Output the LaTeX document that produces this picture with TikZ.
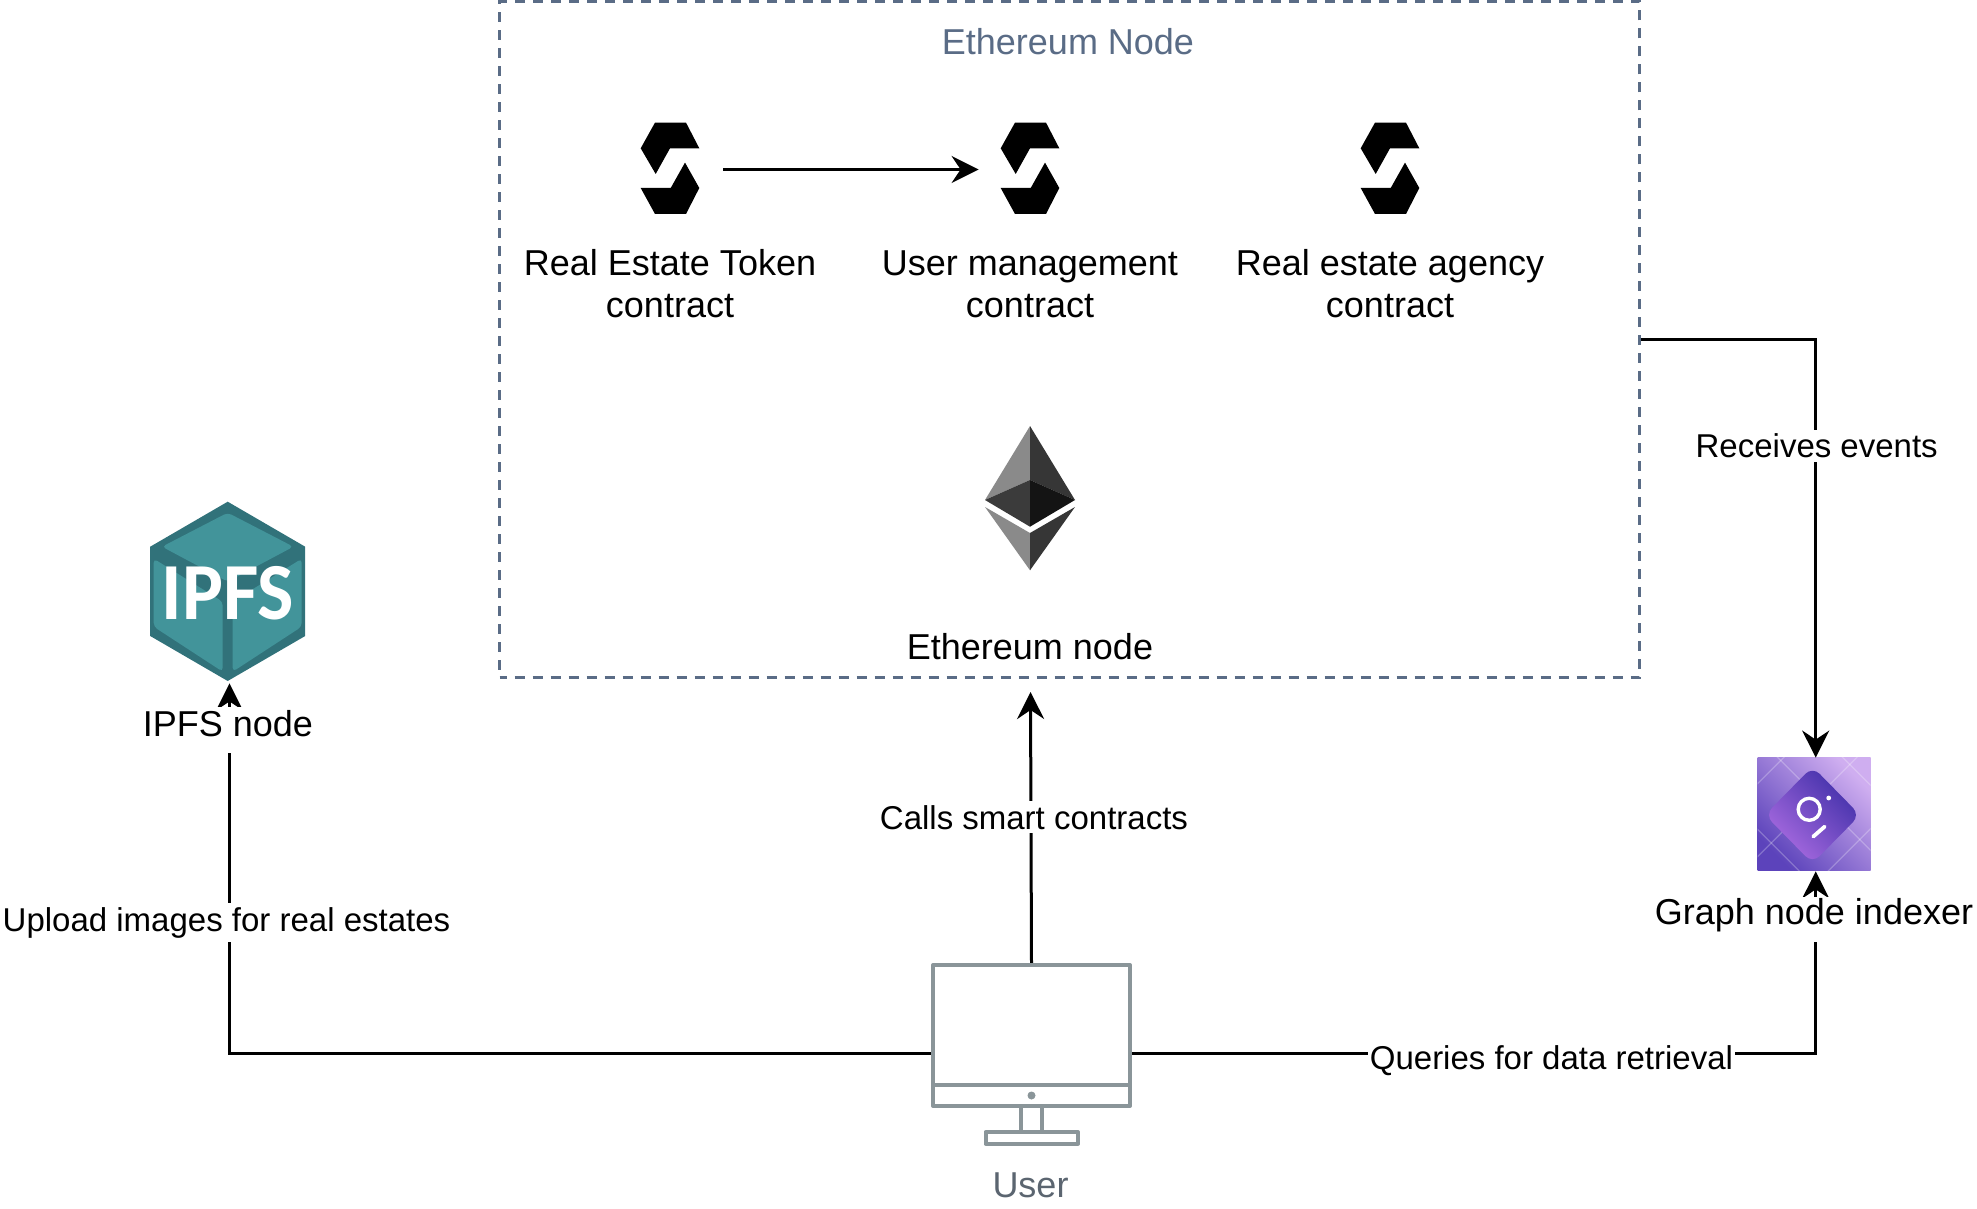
\documentclass[tikz,border=0pt]{standalone}
\usepackage{fontspec}
\setmainfont{Liberation Sans}
\newfontfamily\ipfsfont{Carlito}
\usetikzlibrary{arrows.meta}
\definecolor{nodeblue}{HTML}{5A6C86}
\definecolor{usergray}{HTML}{8A9599}
\definecolor{usertext}{HTML}{5B6570}
\definecolor{cubelight}{HTML}{42949A}
\definecolor{cubedark}{HTML}{31727A}
\definecolor{graphlow}{HTML}{5C43BB}
\definecolor{graphhigh}{HTML}{CFAEF0}
\definecolor{graphleft}{HTML}{AB6CE2}
\definecolor{graphright}{HTML}{3F2FA8}
\tikzset{
icon/.style={
	  inner sep=0pt, minimum width=53pt, minimum height=46pt},
caption/.style={
	  inner sep=0pt, align=center, font=\fontsize{18}{20.9}\selectfont},
hiding/.style={
	  caption, anchor=base, fill=white, text height=14.5pt, text depth=8.5pt,
	    inner xsep=1pt},
edgelabel/.style={
	  fill=white, inner xsep=1pt, inner ysep=2pt, font=\fontsize{16.5}{19}\selectfont},
link/.style={
	  draw=black, line width=1.5pt, -{Stealth[length=13.5pt, width=13.5pt, inset=4.5pt]}},
solidity/.pic={
	  \fill (-15,-45.7) -- (16,-45.7) -- (29.3,-20) -- (0,-20) -- (-14.3,5.7) -- (-29.3,-20) -- cycle;
	  \fill (15,-5.7) -- (29.3,19.7) -- (16,45.7) -- (-15,45.7) -- (-29.3,19.7) -- (0.7,19.7) -- cycle;
},
ether/.pic={
	  \fill[black!46] (0,0) -- (-45,74) -- (0,54) -- cycle;
	  \fill[black!79] (0,0) -- (45,74) -- (0,54) -- cycle;
	  \fill[black!77] (0,54) -- (-45,74) -- (0,100.7) -- cycle;
	  \fill[black!92] (0,54) -- (45,74) -- (0,100.7) -- cycle;
	  \fill[black!46] (-45,81) -- (0,107) -- (0,144.3) -- cycle;
	  \fill[black!79] (45,81) -- (0,107) -- (0,144.3) -- cycle;
},
cube/.pic={
	  \fill[cubedark] (0,-90) -- (77.5,-45) -- (77.5,44.3) -- (0,89.3) -- (-77.5,44.3) -- (-77.5,-45) -- cycle;
	  \fill[cubelight, rounded corners=2pt] (0,-79) -- (65.7,-45) -- (0,-10) -- (-65.7,-45) -- cycle;
	  \fill[cubelight, rounded corners=2pt] (74,-33) -- (74,35) -- (5,80) -- (5,10) -- cycle;
	  \fill[cubelight, rounded corners=2pt] (-74,-33) -- (-74,35) -- (-5,80) -- (-5,10) -- cycle;
},
graphmark/.pic={
	  \shade[left color=graphhigh, right color=graphlow, shading angle=-45] (-56.5,-56.5) rectangle (56.5,56.5);
	  \begin{scope}
	  \clip (-56.5,-56.5) rectangle (56.5,56.5);
	  \foreach \d in {-72,20,85}
		  \draw[white, opacity=.25, line width=.6pt] (\d-80,-80) -- (\d+80,80);
	  \foreach \d in {-87,-14,71}
		  \draw[white, opacity=.25, line width=.6pt] (\d+80,-80) -- (\d-80,80);
	  \end{scope}
	  \shade[left color=graphright, right color=graphleft, shading angle=-45, rounded corners=5pt]
		  (-49.2,1) -- (-1.7,-47.4) -- (45.8,1) -- (-1.7,49.3) -- cycle;
	  \draw[white, line width=1.7pt] (-5,-4.7) circle (11);
	  \fill[white] (14.5,-16) circle (2.4);
	  \draw[white, line width=1.9pt, line cap=round] (-1,22.6) -- (10.5,12.6);
},
monitor/.pic={
	  \draw[usergray, line width=2pt, line join=round] (-98.5,-88.5) rectangle (98.5,52.5);
	  \draw[usergray, line width=2pt] (-98.5,31) -- (98.5,31);
	  \fill[usergray] (0,42) circle (4);
	  \draw[usergray, line width=2pt] (-11,53) -- (-11,78) (10,53) -- (10,78);
	  \draw[usergray, line width=2pt, line join=round] (-46,78.5) rectangle (46.5,90);
}
}

\begin{document}
\begin{tikzpicture}[x=0.5pt, y=-0.5pt]
	\useasboundingbox (0,0) rectangle (1977,1209);
	\node (ethereumbox) [draw=nodeblue, line width=1.5pt, dash pattern=on 5pt off 4pt, dash phase=1.5pt, inner sep=0pt, minimum width=570pt, minimum height=338pt] at (1069.5,339.5) {};
	\node (ethereumtitle) [caption, text=nodeblue] at (1068,42) {Ethereum Node};

	\pic at (670,168.3) {solidity};
	\pic at (1030,168.3) {solidity};
	\pic at (1390,168.3) {solidity};
	\node (tokenicon) [icon] at (670,169.5) {};
	\node (usericon) [icon] at (1030,169.5) {};
	\node (agencyicon) [icon] at (1390,169.5) {};
	\node (tokentext) [caption] at (670,284) {Real Estate Token\\contract};
	\node (usertext) [caption] at (1030,284) {User management\\contract};
	\node (agencytext) [caption] at (1390,284) {Real estate agency\\contract};
	\draw[link, shorten >=-1pt] (tokenicon) -- (usericon);

	\pic at (1030,426) {ether};
	\node (ethereumicon) [inner sep=0pt, minimum width=45pt, minimum height=72pt] at (1030,498) {};
	\node (ethereumtext) [caption] at (1030,647) {Ethereum node};

	\pic at (227.7,591.7) {cube};
	\node (ipfsicon) [inner sep=0pt, minimum width=77.5pt, minimum height=90pt, text=white, font=\ipfsfont\bfseries\fontsize{40.5}{41}\selectfont, xscale=.95] at (227.7,593) {IPFS};

	\pic at (1814.2,814) {graphmark};
	\node (graphicon) [inner sep=0pt, minimum width=56.5pt, minimum height=56.5pt] at (1814.2,814.5) {};

	\node (usermonitor) [inner sep=0pt, minimum width=99.2pt, minimum height=90pt] at (1031.5,1053.5) {};
	\coordinate (ethereumtip) at (1030.5,692);

	\draw[link] (usermonitor.west) -| node[edgelabel, pos=.677, xshift=-1.5pt] (uploadlabel) {Upload images for real estates} ([xshift=.9pt]ipfsicon.south);
	\draw[link] (usermonitor.north) -- node[edgelabel, pos=.538, xshift=1.5pt] (callslabel) {Calls smart contracts} (ethereumtip);
	\draw[link] (usermonitor.east) -| node[edgelabel, pos=.307, yshift=-3.75pt] (querieslabel) {Queries for data retrieval} ([xshift=.75pt]graphicon.south);
	\draw[link] (ethereumbox.east) -| node[edgelabel, pos=.627, xshift=.5pt] (eventslabel) {Receives events} ([xshift=.75pt]graphicon.north);

	\pic at (1031.5,1053.5) {monitor};
	\node (ipfstext) [hiding] at (228,736) {IPFS node};
	\node (graphtext) [hiding, text height=13.5pt, text depth=9pt] at (1814,924) {Graph node indexer};
	\node (usercaption) [caption, text=usertext] at (1030.5,1185) {User};
\end{tikzpicture}
\end{document}
